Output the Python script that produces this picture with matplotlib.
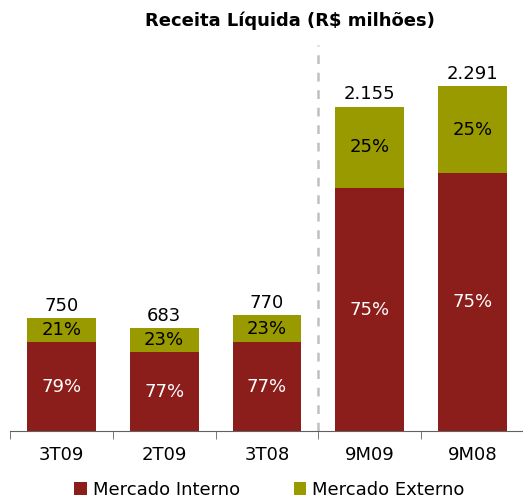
import numpy as np
import matplotlib.pyplot as plt

periodos = ["3T09", "2T09", "3T08", "9M09", "9M08"]
total = [750, 683, 770, 2155, 2291]
pct_interno = [79, 77, 77, 75, 75]
pct_externo = [21, 23, 23, 25, 25]
rotulos_total = ["750", "683", "770", "2.155", "2.291"]

cor_interno = "#8B1E1A"
cor_externo = "#999900"

interno = [t * p / 100 for t, p in zip(total, pct_interno)]
externo = [t - i for t, i in zip(total, interno)]

fig = plt.figure(figsize=(5.23, 4.99), dpi=100)
ax = fig.add_axes([0.019, 0.136, 0.983, 0.784])

x = np.arange(len(periodos))
b1 = ax.bar(x, interno, width=0.67, color=cor_interno, label="Mercado Interno")
b2 = ax.bar(x, externo, width=0.67, bottom=interno, color=cor_externo, label="Mercado Externo")

for i in range(len(periodos)):
    ax.text(x[i], interno[i] / 2, f"{pct_interno[i]}%", ha="center", va="center",
            color="white", fontsize=13)
    ax.text(x[i], interno[i] + externo[i] / 2, f"{pct_externo[i]}%", ha="center",
            va="center", color="black", fontsize=13)
    ax.text(x[i], total[i] + 25, rotulos_total[i], ha="center", va="bottom",
            color="black", fontsize=13)

# separador entre trimestres e acumulado
ax.plot([2.5, 2.5], [0, 2565], color="#c0c0c0", lw=1.8, ls=(0, (3.5, 3.5)))

ax.set_xlim(-0.5, 4.5)
ax.set_ylim(0, 2600)
ax.set_xticks(x)
ax.set_xticklabels(periodos, fontsize=13)
ax.set_xticks(np.arange(-0.5, 5, 1), minor=True)
ax.tick_params(axis="x", which="major", length=0, pad=11)
ax.tick_params(axis="x", which="minor", length=6, color="#606060", direction="out")
ax.set_yticks([])
for s in ["left", "right", "top"]:
    ax.spines[s].set_visible(False)
ax.spines["bottom"].set_color("#606060")

fig.text(0.555, 0.958, "Receita Líquida (R$ milhões)", ha="center", va="center",
         fontsize=13, fontweight="bold")

fig.legend(handles=[b1, b2], loc="center", bbox_to_anchor=(0.515, 0.018), ncol=2,
           frameon=False, fontsize=13, handlelength=0.7, handleheight=0.7,
           handletextpad=0.3, columnspacing=3.0)

fig.savefig("out.png", dpi=100)
